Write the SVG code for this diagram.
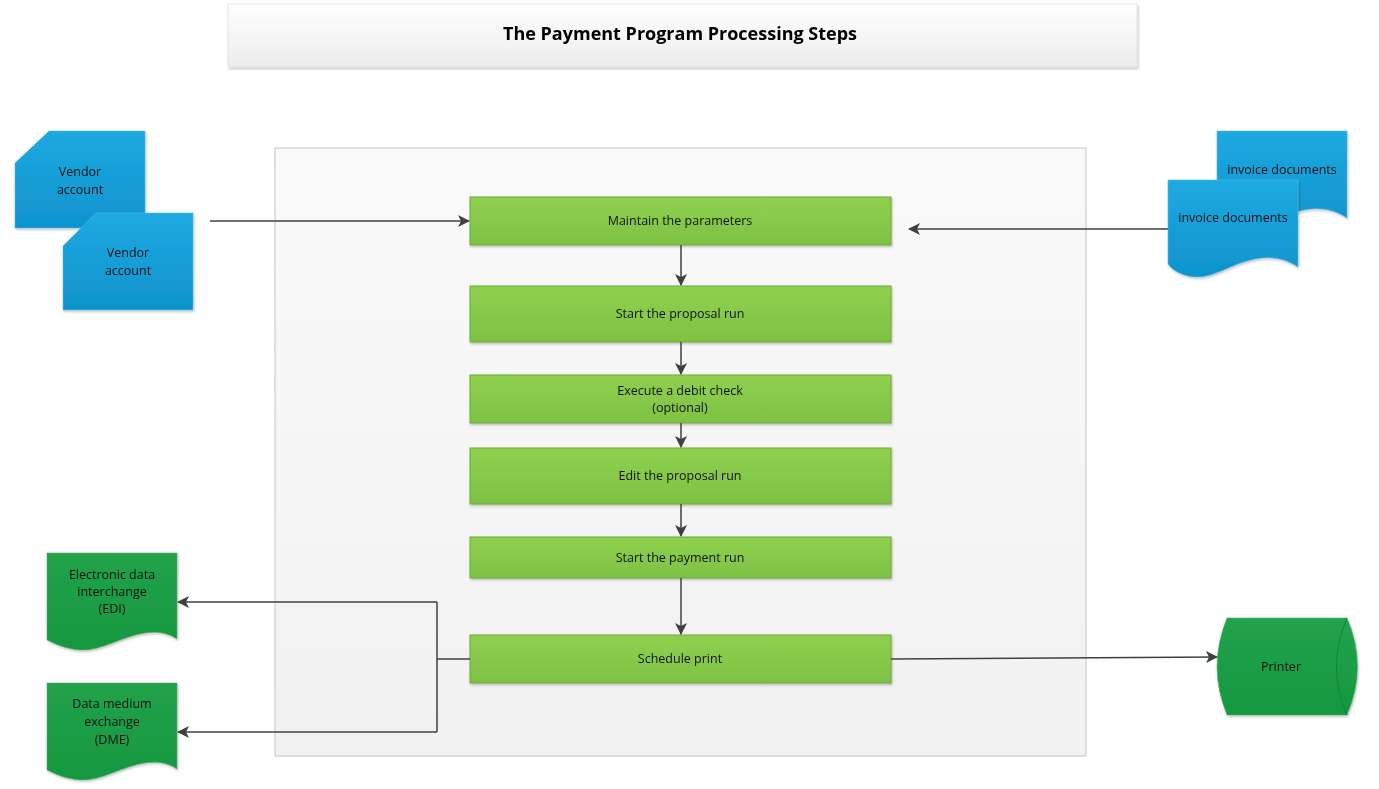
<svg xmlns="http://www.w3.org/2000/svg" width="1379" height="789" viewBox="0 0 1379 789">
<defs>
<linearGradient id="gTitle" x1="0" y1="0" x2="0" y2="1"><stop offset="0" stop-color="#ffffff"/><stop offset="1" stop-color="#ececec"/></linearGradient>
<linearGradient id="gCont" x1="0" y1="0" x2="0" y2="1"><stop offset="0" stop-color="#fafafa"/><stop offset="1" stop-color="#f1f1f1"/></linearGradient>
<linearGradient id="gBlue" x1="0" y1="0" x2="0" y2="1"><stop offset="0" stop-color="#1ea9e1"/><stop offset="1" stop-color="#0f93cd"/></linearGradient>
<linearGradient id="gLime" x1="0" y1="0" x2="0" y2="1"><stop offset="0" stop-color="#8fd04f"/><stop offset="1" stop-color="#7ec243"/></linearGradient>
<linearGradient id="gGreen" x1="0" y1="0" x2="0" y2="1"><stop offset="0" stop-color="#22a24c"/><stop offset="1" stop-color="#16973f"/></linearGradient>
<marker id="arr" viewBox="0 0 12 12" refX="11" refY="6" markerWidth="12" markerHeight="12" markerUnits="userSpaceOnUse" orient="auto"><path d="M0,0 L12,6 L0,12 L3,6 Z" fill="#404040"/></marker>
<filter id="sh" x="-5%" y="-5%" width="110%" height="120%"><feDropShadow dx="1" dy="1.5" stdDeviation="1" flood-color="#000" flood-opacity="0.25"/></filter>
</defs>
<style>
text{font-family:"Open Sans","Liberation Sans",Arial,sans-serif;font-size:12.5px;fill:#111;text-anchor:middle}
.title{font-size:18px;font-weight:bold;fill:#000}
.proc{fill:url(#gLime);stroke:#6fa83b;stroke-width:1}
.blue{fill:url(#gBlue);stroke:#5fb8dc;stroke-width:0.6}
.green{fill:url(#gGreen);stroke:#5fae6f;stroke-width:0.6}
.conn{fill:none;stroke:#404040;stroke-width:1.5}
</style>
<rect width="1379" height="789" fill="#ffffff"/>
<g id="title" filter="url(#sh)">
<rect x="228" y="4" width="909" height="63" fill="url(#gTitle)" stroke="#e2e2e2" stroke-width="0.8"/>
<text class="title" x="680" y="40" textLength="354" lengthAdjust="spacingAndGlyphs">The Payment Program Processing Steps</text>
</g>
<g id="container">
<rect x="275" y="148" width="811" height="608" fill="url(#gCont)" stroke="#c4c4c4" stroke-width="1"/>
</g>
<g id="step1" filter="url(#sh)"><rect class="proc" x="470" y="197" width="421" height="48"/><text x="680" y="225">Maintain the parameters</text></g>
<g id="step2" filter="url(#sh)"><rect class="proc" x="470" y="286" width="421" height="56"/><text x="680" y="318">Start the proposal run</text></g>
<g id="step3" filter="url(#sh)"><rect class="proc" x="470" y="375" width="421" height="48"/><text x="680" y="395">Execute a debit check</text><text x="680" y="412">(optional)</text></g>
<g id="step4" filter="url(#sh)"><rect class="proc" x="470" y="448" width="421" height="56"/><text x="680" y="480">Edit the proposal run</text></g>
<g id="step5" filter="url(#sh)"><rect class="proc" x="470" y="537" width="421" height="41"/><text x="680" y="562">Start the payment run</text></g>
<g id="step6" filter="url(#sh)"><rect class="proc" x="470" y="635" width="421" height="48"/><text x="680" y="663">Schedule print</text></g>
<g id="vendor1" filter="url(#sh)"><path class="blue" d="M49,131 H145 V228 H15 V163 Z"/><text x="80" y="176">Vendor</text><text x="80" y="194">account</text></g>
<g id="vendor2" filter="url(#sh)"><path class="blue" d="M96,213 H193 V310 H63 V246 Z"/><text x="128" y="257">Vendor</text><text x="128" y="275">account</text></g>
<g id="invoice1" filter="url(#sh)"><path class="blue" d="M1217,131 H1347 V218 C1334,209 1319,207 1304,210 C1279,215 1264,229 1244,228 C1231,227 1221,221 1217,215 Z"/><text x="1282" y="174">invoice documents</text></g>
<g id="invoice2" filter="url(#sh)"><path class="blue" d="M1168,180 H1298 V267 C1285,258 1270,256 1255,259 C1230,264 1215,278 1195,277 C1182,276 1172,270 1168,264 Z"/><text x="1233" y="222">invoice documents</text></g>
<g id="edi" filter="url(#sh)"><path class="green" d="M47,553 H177 V639 C168,633 158,631 145,633 C120,637 102,651 80,650 C66,649 55,644 47,640 Z"/><text x="112" y="579">Electronic data</text><text x="112" y="596">interchange</text><text x="112" y="613">(EDI)</text></g>
<g id="dme" filter="url(#sh)"><path class="green" d="M47,683 H177 V769 C168,763 158,761 145,763 C120,767 102,781 80,780 C66,779 55,774 47,770 Z"/><text x="112" y="708">Data medium</text><text x="112" y="726">exchange</text><text x="112" y="744">(DME)</text></g>
<g id="printer" filter="url(#sh)"><path class="green" d="M1227,618 H1347 Q1368,666.5 1347,715 H1227 Q1207,666.5 1227,618 Z"/><path d="M1347,618 Q1326,666.5 1347,715" fill="none" stroke="#157a35" stroke-width="0.8"/><text x="1281" y="671">Printer</text></g>
<g id="connectors">
<path class="conn" d="M210,221 H469" marker-end="url(#arr)"/>
<path class="conn" d="M1168,229 H909" marker-end="url(#arr)"/>
<path class="conn" d="M681,245 V285" marker-end="url(#arr)"/>
<path class="conn" d="M681,342 V374" marker-end="url(#arr)"/>
<path class="conn" d="M681,423 V447" marker-end="url(#arr)"/>
<path class="conn" d="M681,504 V536" marker-end="url(#arr)"/>
<path class="conn" d="M681,578 V634" marker-end="url(#arr)"/>
<path class="conn" d="M470,659 H437"/>
<path class="conn" d="M437,602 V732"/>
<path class="conn" d="M437,602 H178" marker-end="url(#arr)"/>
<path class="conn" d="M437,732 H178" marker-end="url(#arr)"/>
<path class="conn" d="M891,659 L1217,657" marker-end="url(#arr)"/>
</g>
</svg>
